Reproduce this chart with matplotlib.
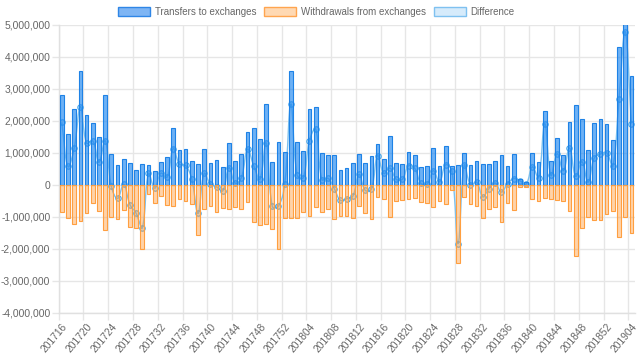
import numpy as np
import matplotlib
matplotlib.use('Agg')
import matplotlib.pyplot as plt
from matplotlib.path import Path
from matplotlib.patches import PathPatch, Patch
from matplotlib.ticker import FuncFormatter

plt.rcParams['font.family'] = ['Liberation Sans', 'DejaVu Sans']

# weeks 201716 .. 201904
weeks = ['2017%02d' % w for w in range(16, 53)] + \
        ['2018%02d' % w for w in range(1, 53)] + \
        ['2019%02d' % w for w in range(1, 5)]

# values in millions
transfers = [2.81, 1.60, 2.36, 3.56, 2.18, 1.95, 1.51, 2.80, 0.97, 0.63,
             0.80, 0.70, 0.47, 0.67, 0.64, 0.45, 0.72, 0.875, 1.79, 1.08,
             1.11, 0.76, 0.67, 1.11, 0.69, 0.77, 0.55, 1.30, 0.75, 0.98,
             1.65, 1.77, 1.43, 2.54, 0.72, 1.35, 1.04, 3.55, 1.33, 1.07,
             2.36, 2.43, 1.00, 0.95, 0.95, 0.48, 0.53, 0.69, 0.98, 0.70,
             0.92, 1.28, 0.81, 1.54, 0.68, 0.66, 1.04, 0.93, 0.57, 0.60,
             1.15, 0.59, 1.22, 0.60, 0.61, 1.01, 0.61, 0.76, 0.65, 0.65,
             0.76, 0.93, 0.59, 0.98, 0.18, 0.08, 1.01, 0.73, 2.32, 0.75,
             1.46, 0.94, 1.96, 2.50, 2.06, 1.10, 1.94, 2.06, 1.91, 1.40,
             4.31, 5.80, 3.41]
withdrawals = [-0.85, -1.02, -1.21, -1.11, -0.875, -0.57, -0.80, -1.41, -1.01, -1.05,
               -0.78, -1.31, -1.35, -2.01, -0.28, -0.55, -0.35, -0.635, -0.65, -0.43,
               -0.50, -0.58, -1.56, -0.75, -0.66, -0.83, -0.73, -0.76, -0.69, -0.75,
               -0.53, -1.17, -1.25, -1.22, -1.39, -2.01, -1.02, -1.02, -1.02, -0.84,
               -0.97, -0.68, -0.83, -0.74, -1.06, -0.96, -0.96, -1.04, -0.65, -0.865,
               -1.05, -0.36, -0.45, -1.01, -0.50, -0.48, -0.44, -0.41, -0.52, -0.57,
               -0.70, -0.49, -0.59, -0.16, -2.44, -0.385, -0.60, -0.67, -1.02, -0.76,
               -0.70, -1.15, -0.55, -0.78, -0.05, -0.05, -0.44, -0.50, -0.40, -0.45,
               -0.48, -0.49, -0.80, -2.23, -1.33, -1.01, -1.10, -1.09, -0.90, -0.82,
               -1.625, -1.01, -1.49]

transfers = np.array(transfers) * 1e6
withdrawals = np.array(withdrawals) * 1e6
difference = transfers + withdrawals

blue_face = (0.12, 0.53, 0.94, 0.65)
blue_edge = '#1e82e6'
orange_face = (1.0, 0.62, 0.25, 0.45)
orange_edge = '#ff9f40'
line_col = '#7cc0ee'
grey = '#666666'

fig = plt.figure(figsize=(6.4, 3.61), dpi=100)
ax = fig.add_axes([58.7 / 640, 48 / 361, 575.8 / 640, 288 / 361])
x = np.arange(len(weeks))
ax.set_xlim(-0.5, len(weeks) - 0.5)
ax.set_ylim(-4e6, 5e6)

# smooth line like chart.js (tension 0.4), computed in pixel space
def spline(xs, ys, t=0.4):
    pts = ax.transData.transform(np.column_stack([xs, ys]))
    n = len(pts)
    prev_cp = np.zeros_like(pts)
    next_cp = np.zeros_like(pts)
    for i in range(n):
        p0 = pts[max(i - 1, 0)]
        p1 = pts[i]
        p2 = pts[min(i + 1, n - 1)]
        d01 = np.hypot(*(p1 - p0))
        d12 = np.hypot(*(p2 - p1))
        tot = d01 + d12
        fa = t * d01 / tot if tot else 0
        fb = t * d12 / tot if tot else 0
        prev_cp[i] = p1 - fa * (p2 - p0)
        next_cp[i] = p1 + fb * (p2 - p0)
    verts = [pts[0]]
    codes = [Path.MOVETO]
    for i in range(1, n):
        verts += [next_cp[i - 1], prev_cp[i], pts[i]]
        codes += [Path.CURVE4] * 3
    inv = ax.transData.inverted()
    return Path(inv.transform(np.array(verts)), codes)

ax.add_patch(PathPatch(spline(x, difference), facecolor='none', edgecolor=line_col,
                       lw=1.0, zorder=2))
ax.plot(x, difference, ls='none', marker='o', ms=3.9, mfc=(0.21, 0.64, 0.92, 0.2),
        mec='#45a6ec', mew=0.8, zorder=2.5)

ax.bar(x, transfers, width=0.6, color=blue_face, edgecolor=blue_edge, lw=0.8, zorder=3)
ax.bar(x, withdrawals, width=0.6, color=orange_face, edgecolor=orange_edge, lw=0.8, zorder=3)

# grid and ticks
ax.set_yticks(np.arange(-4e6, 5.1e6, 1e6))
ax.yaxis.set_major_formatter(FuncFormatter(lambda v, p: '{:,.0f}'.format(v)))
ax.grid(axis='y', color='#e6e6e6', lw=1, zorder=0)
ax.set_xticks(x[::4])
ax.set_xticklabels(weeks[::4], rotation=50, ha='right', va='top', rotation_mode='anchor')
ax.set_xticks(x[::4] - 0.5, minor=True)
ax.grid(axis='x', which='minor', color='#e6e6e6', lw=1, zorder=0)
ax.tick_params(axis='x', which='major', length=0, pad=6, labelsize=7.4, colors=grey)
ax.tick_params(axis='x', which='minor', length=5, color='#e6e6e6', width=1)
ax.tick_params(axis='y', length=5, color='#e6e6e6', width=1, pad=1, labelsize=7.4,
               labelcolor=grey)
ax.set_axisbelow(True)
for s in ['top', 'right']:
    ax.spines[s].set_visible(False)
for s in ['left', 'bottom']:
    ax.spines[s].set_color('#e0e0e0')
    ax.spines[s].set_linewidth(1)

handles = [Patch(facecolor='#7eb5f4', edgecolor='#2f86e6', lw=1),
           Patch(facecolor='#ffd9b3', edgecolor='#ffa54f', lw=1),
           Patch(facecolor='#d6ebfb', edgecolor='#7fc1f0', lw=1)]
fig.legend(handles, ['Transfers to exchanges', 'Withdrawals from exchanges', 'Difference'],
           loc='center', bbox_to_anchor=(0.494, 1 - 12 / 361), ncol=3, frameon=False,
           fontsize=7.0, labelcolor=grey, handlelength=3.3, handleheight=1.0,
           handletextpad=0.5, columnspacing=0.8, borderpad=0)

fig.savefig('out.png', dpi=100)
